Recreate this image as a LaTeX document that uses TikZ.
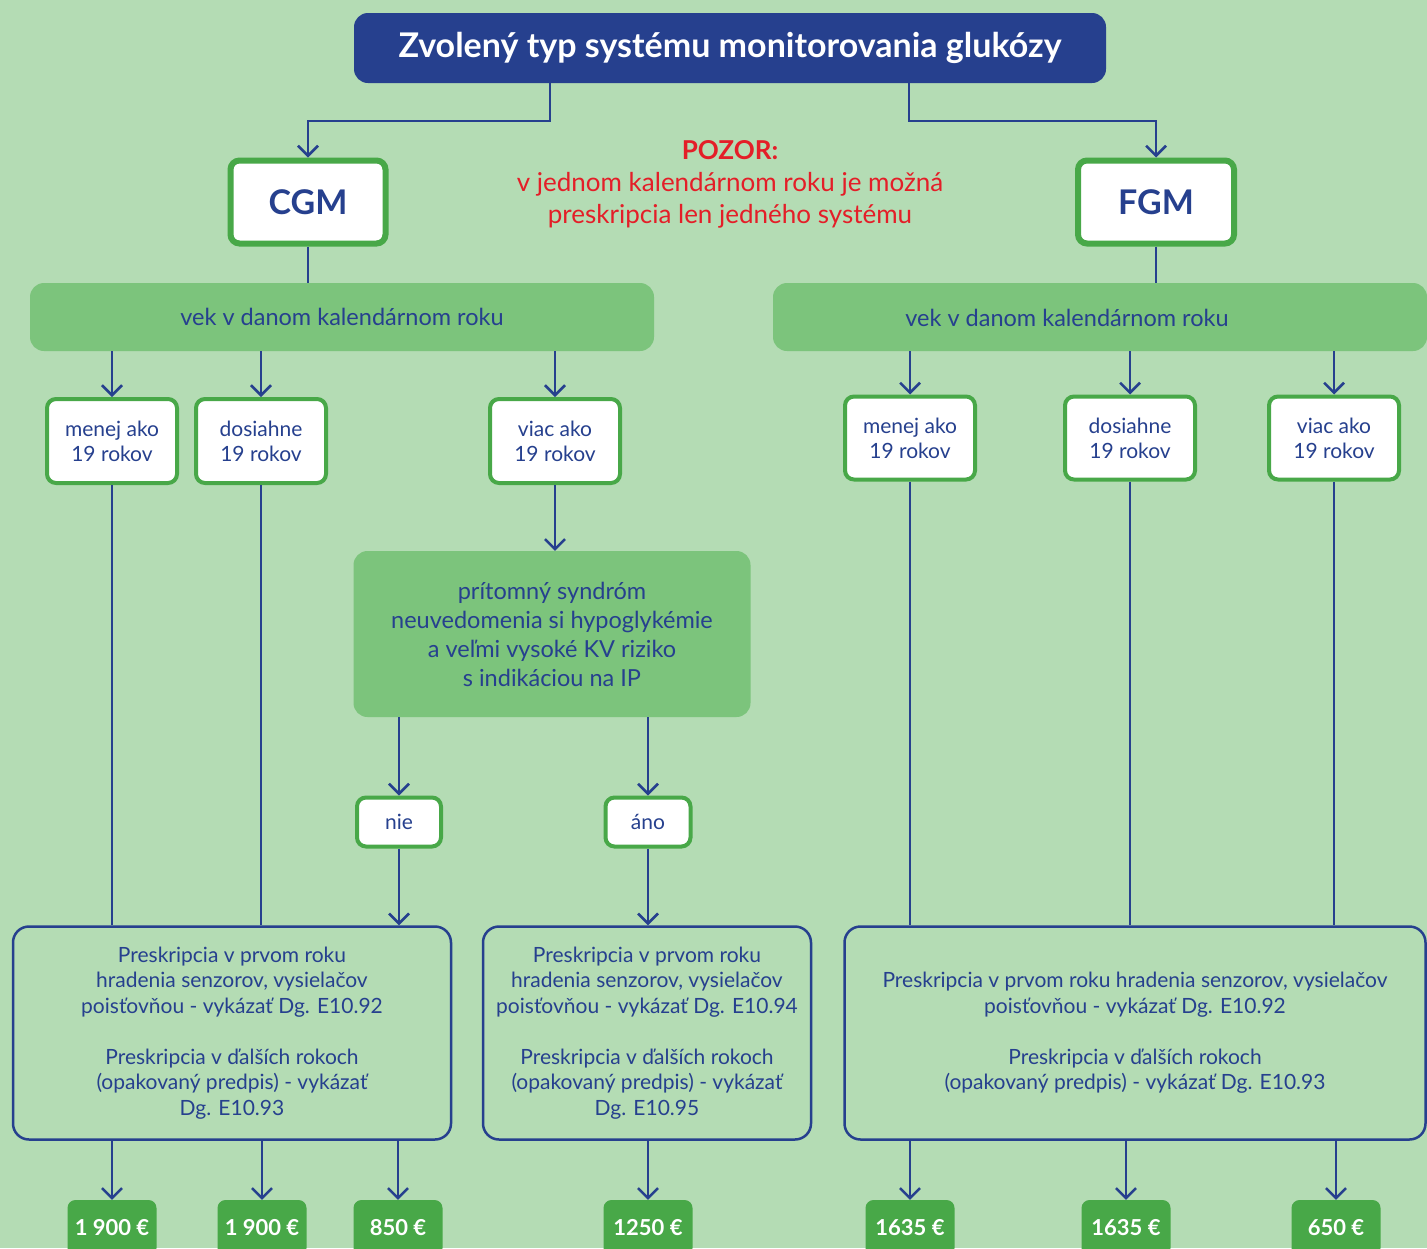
\documentclass[tikz,border=0pt]{standalone}
\usepackage{fontspec}
\setmainfont{Lato}
\usetikzlibrary{arrows.meta}

\definecolor{bg}{RGB}{180,220,180}
\definecolor{navy}{RGB}{38,64,142}
\definecolor{leaf}{RGB}{72,168,72}
\definecolor{mint}{RGB}{124,196,124}
\definecolor{alert}{RGB}{228,30,40}

\begin{document}
\begin{tikzpicture}[x=1pt, y=-1pt,
  ar/.style={draw=navy, line width=2.5pt, -{Straight Barb[length=10pt,width=20pt]}},
  ln/.style={draw=navy, line width=2.5pt},
  wbox/.style={draw=leaf, line width=4pt, fill=white, rounded corners=9pt, text=navy, align=center, inner sep=0pt, font=\fontsize{21}{25}\selectfont},
  gbox/.style={fill=mint, rounded corners=14pt, text=navy, align=center, inner sep=0pt},
  bbox/.style={draw=navy, line width=2.5pt, rounded corners=16pt, text=navy, align=center, inner sep=0pt, font=\fontsize{21}{25.5}\selectfont},
  price/.style={fill=leaf, rounded corners=8pt, text=white, inner sep=0pt, minimum width=89pt, minimum height=56pt, font=\bfseries\fontsize{22}{24}\selectfont}]
\useasboundingbox (0,0) rectangle (1427,1248);
\fill[bg] (0,0) rectangle (1427,1248);
\clip (0,0) rectangle (1427,1248);

% top
\node[fill=navy, rounded corners=14pt, minimum width=752pt, minimum height=70pt, text=white, font=\bfseries\fontsize{34}{38}\selectfont] (title) at (730,48) {Zvolený typ systému monitorovania glukózy};
\node[wbox, line width=6pt, minimum width=155pt, minimum height=83pt, font=\bfseries\fontsize{34}{38}\selectfont] (cgm) at (308,202) {CGM};
\node[wbox, line width=6pt, minimum width=156pt, minimum height=83pt, font=\bfseries\fontsize{34}{38}\selectfont] (fgm) at (1156,202) {FGM};
\node[text=alert, align=center, font=\fontsize{26}{32}\selectfont] (pozor) at (730,184) {\textbf{POZOR:}\\v jednom kalendárnom roku je možná\\preskripcia len jedného systému};

% vek
\node[gbox, minimum width=624pt, minimum height=68pt, font=\fontsize{23.5}{25}\selectfont] (agecgm) at (342,317) {vek v danom kalendárnom roku};
\node[gbox, minimum width=654pt, minimum height=68pt] (agefgm) at (1100,317) {};
\node[text=navy, font=\fontsize{23.5}{25}\selectfont] (agefgmtext) at (1067,318) {vek v danom kalendárnom roku};

\node[wbox, minimum width=130pt, minimum height=84pt] (cmenej) at (112,441) {menej ako\\19 rokov};
\node[wbox, minimum width=130pt, minimum height=84pt] (cdosiahne) at (261,441) {dosiahne\\19 rokov};
\node[wbox, minimum width=130pt, minimum height=84pt] (cviac) at (555,441) {viac ako\\19 rokov};
\node[wbox, minimum width=130pt, minimum height=83pt] (fmenej) at (910,438) {menej ako\\19 rokov};
\node[wbox, minimum width=130pt, minimum height=83pt] (fdosiahne) at (1130,438) {dosiahne\\19 rokov};
\node[wbox, minimum width=130pt, minimum height=83pt] (fviac) at (1334,438) {viac ako\\19 rokov};

\node[gbox, minimum width=397pt, minimum height=166pt, font=\fontsize{23.5}{29}\selectfont] (syndrom) at (552,634) {prítomný syndróm\\neuvedomenia si hypoglykémie\\a veľmi vysoké KV riziko\\s indikáciou na IP};
\node[wbox, minimum width=84pt, minimum height=49pt] (nie) at (399,822) {nie};
\node[wbox, minimum width=85pt, minimum height=49pt] (ano) at (648,822) {áno};

% preskripcia
\node[bbox, minimum width=438pt, minimum height=213pt] (rx1) at (232,1033) {Preskripcia v prvom roku\\hradenia senzorov, vysielačov\\poisťovňou - vykázať Dg. E10.92\\[25.5pt]Preskripcia v ďalších rokoch\\(opakovaný predpis) - vykázať\\Dg. E10.93};
\node[bbox, minimum width=328pt, minimum height=213pt] (rx2) at (647,1033) {Preskripcia v prvom roku\\hradenia senzorov, vysielačov\\poisťovňou - vykázať Dg. E10.94\\[25.5pt]Preskripcia v ďalších rokoch\\(opakovaný predpis) - vykázať\\Dg. E10.95};
\node[bbox, minimum width=581pt, minimum height=213pt] (rx3) at (1135,1033) {Preskripcia v prvom roku hradenia senzorov, vysielačov\\poisťovňou - vykázať Dg. E10.92\\[25.5pt]Preskripcia v ďalších rokoch\\(opakovaný predpis) - vykázať Dg. E10.93};

\foreach \nm/\px/\val in {p1/112/1 900 €, p2/262/1 900 €, p3/398/850 €, p4/648/1250 €, p5/910/1635 €, p6/1126/1635 €, p7/1336/650 €}
  \node[price] (\nm) at (\px,1228) {\val};

% connectors
\draw[ar] ([xshift=-180pt]title.south) -- ++(0,38) -| (cgm);
\draw[ar] ([xshift=179pt]title.south) -- ++(0,38) -| (fgm);
\draw[ln] (cgm) -- (cgm |- agecgm.north);
\draw[ln] (fgm) -- (fgm |- agefgm.north);
\foreach \b in {cmenej, cdosiahne, cviac}
  \draw[ar] (agecgm.south -| \b) -- (\b);
\foreach \b in {fmenej, fdosiahne, fviac}
  \draw[ar] (agefgm.south -| \b) -- (\b);
\draw[ar] (cviac) -- (cviac |- syndrom.north);
\draw[ar] (syndrom.south -| nie) -- (nie);
\draw[ar] (syndrom.south -| ano) -- (ano);
\draw[ln] (cmenej) -- (cmenej |- rx1.north);
\draw[ln] (cdosiahne) -- (cdosiahne |- rx1.north);
\draw[ar] (nie) -- (nie |- rx1.north);
\draw[ar] (ano) -- (ano |- rx2.north);
\foreach \b in {fmenej, fdosiahne, fviac}
  \draw[ln] (\b) -- (\b |- rx3.north);
\foreach \p/\r in {p1/rx1, p2/rx1, p3/rx1, p4/rx2, p5/rx3, p6/rx3, p7/rx3}
  \draw[ar] (\r.south -| \p) -- (\p);
\end{tikzpicture}
\end{document}
